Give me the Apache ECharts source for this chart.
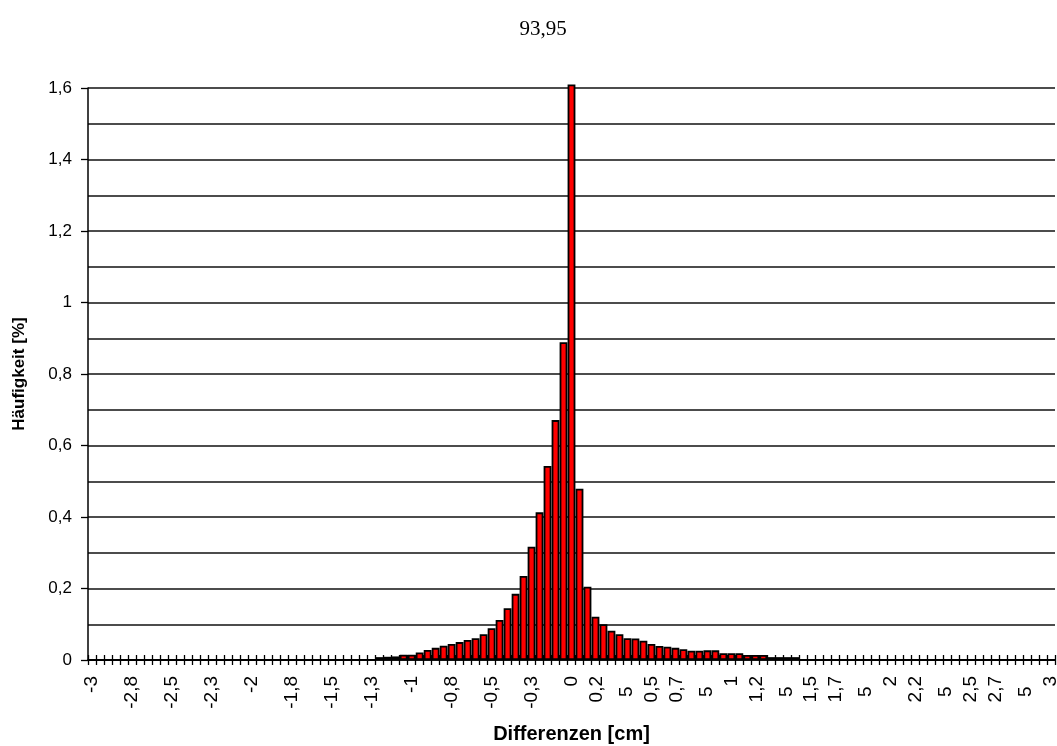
<!DOCTYPE html>
<html>
<head>
<meta charset="utf-8">
<title>93,95</title>
<script src="https://cdn.jsdelivr.net/npm/echarts@6/dist/echarts.min.js"></script>
<style>
  html, body { margin: 0; padding: 0; background: #fff; }
  #chart { width: 1057px; height: 746px; }
</style>
</head>
<body>
<div id="chart"></div>
<script>
// Class centres of the differences, in cm (step 0,05)
const categories = [
  -3, -2.95, -2.9, -2.85, -2.8, -2.75, -2.7, -2.65, -2.6, -2.55,
  -2.5, -2.45, -2.4, -2.35, -2.3, -2.25, -2.2, -2.15, -2.1, -2.05,
  -2, -1.95, -1.9, -1.85, -1.8, -1.75, -1.7, -1.65, -1.6, -1.55,
  -1.5, -1.45, -1.4, -1.35, -1.3, -1.25, -1.2, -1.15, -1.1, -1.05,
  -1, -0.95, -0.9, -0.85, -0.8, -0.75, -0.7, -0.65, -0.6, -0.55,
  -0.5, -0.45, -0.4, -0.35, -0.3, -0.25, -0.2, -0.15, -0.1, -0.05,
  0, 0.05, 0.1, 0.15, 0.2, 0.25, 0.3, 0.35, 0.4, 0.45,
  0.5, 0.55, 0.6, 0.65, 0.7, 0.75, 0.8, 0.85, 0.9, 0.95,
  1, 1.05, 1.1, 1.15, 1.2, 1.25, 1.3, 1.35, 1.4, 1.45,
  1.5, 1.55, 1.6, 1.65, 1.7, 1.75, 1.8, 1.85, 1.9, 1.95,
  2, 2.05, 2.1, 2.15, 2.2, 2.25, 2.3, 2.35, 2.4, 2.45,
  2.5, 2.55, 2.6, 2.65, 2.7, 2.75, 2.8, 2.85, 2.9, 2.95,
  3
];

// Frequency per class, in %
const frequency = [
  0, 0, 0, 0, 0, 0, 0, 0, 0, 0,
  0, 0, 0, 0, 0, 0, 0, 0, 0, 0,
  0, 0, 0, 0, 0, 0, 0, 0, 0, 0,
  0, 0, 0, 0, 0, 0, 0.008, 0.009, 0.01, 0.015,
  0.015, 0.021, 0.028, 0.034, 0.040, 0.045, 0.050, 0.056, 0.061, 0.072,
  0.089, 0.112, 0.145, 0.185, 0.235, 0.317, 0.413, 0.543, 0.671, 0.889,
  1.61, 0.479, 0.205, 0.121, 0.100, 0.082, 0.072, 0.061, 0.060, 0.054,
  0.045, 0.039, 0.037, 0.034, 0.030, 0.026, 0.026, 0.027, 0.027, 0.019,
  0.019, 0.019, 0.014, 0.014, 0.014, 0.008, 0.008, 0.008, 0.008, 0,
  0, 0, 0, 0, 0, 0, 0, 0, 0, 0,
  0, 0, 0, 0, 0, 0, 0, 0, 0, 0,
  0, 0, 0, 0, 0, 0, 0, 0, 0, 0,
  0
];

// Labels shown under every fifth class
const tickLabels = [
  '-3', '-2,8', '-2,5', '-2,3', '-2', '-1,8', '-1,5', '-1,3', '-1',
  '-0,8', '-0,5', '-0,3', '0',
  '0,2\n5  ', '0,5', '0,7\n5  ', '1', '1,2\n5  ', '1,5', '1,7\n5  ',
  '2', '2,2\n5  ', '2,5', '2,7\n5  ', '3'
];

const yTicks = [0, 0.2, 0.4, 0.6, 0.8, 1, 1.2, 1.4, 1.6];

const SANS = '"Liberation Sans", Arial, sans-serif';

const chart = echarts.init(document.getElementById('chart'), null, { renderer: 'canvas' });

chart.setOption({
  animation: false,
  backgroundColor: '#fff',
  title: {
    text: '93,95',
    left: 538,
    textAlign: 'center',
    top: 14,
    textStyle: {
      fontFamily: '"Liberation Serif", "Times New Roman", serif',
      fontWeight: 'normal',
      fontSize: 21,
      color: '#000'
    }
  },
  grid: { left: 88, right: 2, top: 88, bottom: 86, containLabel: false, outerBoundsMode: 'none' },
  xAxis: [
    {
      type: 'category',
      position: 'bottom',
      data: categories,
      boundaryGap: true,
      name: 'Differenzen [cm]',
      nameLocation: 'middle',
      nameGap: 64,
      nameTextStyle: { fontFamily: SANS, fontWeight: 'bold', fontSize: 20, color: '#000' },
      axisLine: { show: true, lineStyle: { color: '#000', width: 1.5 } },
      axisTick: { show: true, interval: 0, inside: false, length: 5, lineStyle: { color: '#000', width: 1.3 } },
      axisLabel: {
        interval: 0,
        rotate: 90,
        margin: 16,
        fontFamily: SANS,
        fontSize: 19,
        color: '#000',
        lineHeight: 30,
        formatter: (val, idx) => (idx % 5 === 0 ? tickLabels[idx / 5] : '')
      },
      splitLine: { show: false }
    },
    {
      // inner half of the crossing tick marks
      type: 'category',
      position: 'bottom',
      data: categories,
      boundaryGap: true,
      axisLine: { show: false },
      axisTick: { show: true, interval: 0, inside: true, length: 5, lineStyle: { color: '#000', width: 1.3 } },
      axisLabel: { show: false },
      splitLine: { show: false }
    }
  ],
  yAxis: {
    type: 'value',
    min: 0,
    max: 1.6,
    interval: 0.2,
    name: 'Häufigkeit [%]',
    nameLocation: 'middle',
    nameGap: 60,
    nameTextStyle: { fontFamily: SANS, fontWeight: 'bold', fontSize: 17, color: '#000' },
    axisLine: { show: true, lineStyle: { color: '#000', width: 1.5 } },
    axisTick: { show: true, inside: false, length: 7, lineStyle: { color: '#000', width: 1.3 } },
    axisLabel: {
      fontFamily: SANS,
      fontSize: 17,
      color: '#000',
      margin: 16,
      formatter: v => {
        const t = yTicks.find(x => Math.abs(x - v) < 1e-9);
        return String(t !== undefined ? t : v).replace('.', ',');
      }
    },
    splitLine: { show: true, lineStyle: { color: '#111', width: 1.6 } },
    minorTick: { show: false, splitNumber: 2 },
    minorSplitLine: { show: true, lineStyle: { color: '#111', width: 1.6 } }
  },
  series: [
    {
      type: 'bar',
      xAxisIndex: 0,
      data: frequency,
      clip: false,
      barCategoryGap: '2%',
      itemStyle: { color: '#ff0000', borderColor: '#000', borderWidth: 1.8 }
    }
  ]
});
</script>
</body>
</html>
